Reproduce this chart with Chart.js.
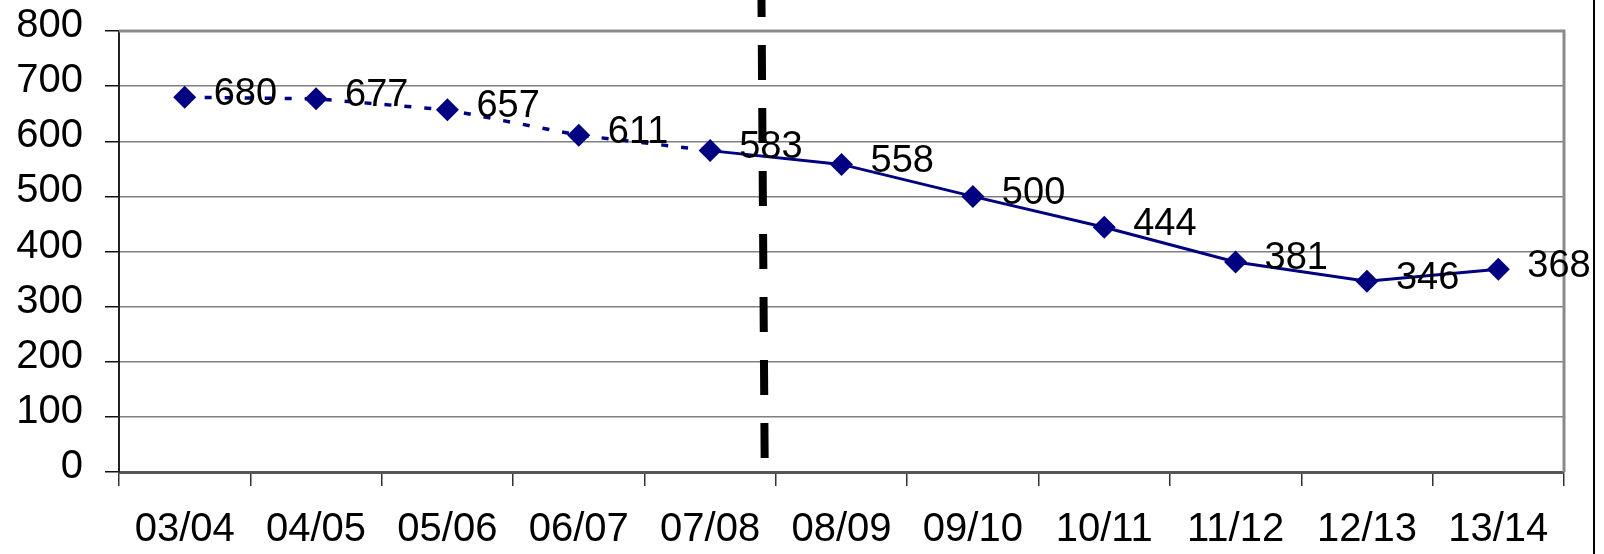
<!DOCTYPE html>
<html>
<head>
<meta charset="utf-8">
<script src="https://cdn.jsdelivr.net/npm/chart.js@4.4.0/dist/chart.umd.min.js"></script>
<style>
  html, body { margin: 0; padding: 0; background: #ffffff; }
  #wrap { width: 1604px; height: 554px; }
</style>
</head>
<body>
<div id="wrap"><canvas id="c" width="1604" height="554"></canvas></div>
<script>
const categories = ['03/04', '04/05', '05/06', '06/07', '07/08', '08/09', '09/10', '10/11', '11/12', '12/13', '13/14'];
const values = [680, 677, 657, 611, 583, 558, 500, 444, 381, 346, 368];
const yTicks = [0, 100, 200, 300, 400, 500, 600, 700, 800];
const dottedUntilIndex = 4;      // segments up to 07/08 are dotted
const dividerPosition = [4.39, 4.415]; // category-axis position of the dashed divider (top, bottom)

const FONT = '"Liberation Sans", Arial, "DejaVu Sans", sans-serif';
const NAVY = '#000080';

const decorations = {
  id: 'decorations',
  afterDatasetsDraw(chart) {
    const { ctx, chartArea: a, scales: { x, y } } = chart;
    ctx.save();
    // plot frame top & right
    ctx.strokeStyle = '#8a8a8a';
    ctx.lineWidth = 3;
    ctx.beginPath();
    ctx.moveTo(a.left, a.top);
    ctx.lineTo(a.right, a.top);
    ctx.lineTo(a.right, a.bottom);
    ctx.stroke();
    // dashed divider
    ctx.strokeStyle = '#000000';
    ctx.lineWidth = 8;
    ctx.setLineDash([35, 28]);
    ctx.beginPath();
    ctx.moveTo(x.getPixelForValue(dividerPosition[0]), -18);
    ctx.lineTo(x.getPixelForValue(dividerPosition[1]), a.bottom - 13);
    ctx.stroke();
    ctx.setLineDash([]);
    // right frame edge
    ctx.lineWidth = 2;
    ctx.beginPath();
    ctx.moveTo(1594, 0);
    ctx.lineTo(1594, chart.height);
    ctx.stroke();
    // data labels
    const meta = chart.getDatasetMeta(0);
    ctx.fillStyle = '#000000';
    ctx.font = '38px ' + FONT;
    ctx.textAlign = 'left';
    ctx.textBaseline = 'middle';
    meta.data.forEach((pt, i) => {
      ctx.fillText(String(values[i]), pt.x + 29, pt.y - 3);
    });
    ctx.restore();
  }
};

new Chart(document.getElementById('c'), {
  type: 'line',
  data: {
    labels: categories,
    datasets: [{
      data: values,
      borderColor: NAVY,
      backgroundColor: NAVY,
      borderWidth: 3,
      tension: 0,
      pointStyle: 'rectRot',
      pointRadius: 11.5,
      pointHoverRadius: 11.5,
      pointBorderWidth: 0,
      pointBackgroundColor: NAVY,
      segment: {
        borderDash: c => (c.p1DataIndex <= dottedUntilIndex ? [7, 13] : undefined),
        borderWidth: c => (c.p1DataIndex <= dottedUntilIndex ? 3.5 : 3)
      }
    }]
  },
  options: {
    responsive: false,
    animation: false,
    devicePixelRatio: 1,
    layout: { padding: { top: 31, right: 40, left: 0, bottom: 0 } },
    plugins: { legend: { display: false }, tooltip: { enabled: false } },
    scales: {
      x: {
        type: 'category',
        offset: true,
        afterFit(s) { s.height = 82; s.paddingLeft = 0; s.paddingRight = 0; },
        grid: {
          offset: true,
          drawOnChartArea: false,
          drawTicks: true,
          tickLength: 14,
          tickColor: '#333333',
          lineWidth: 1.5
        },
        border: { display: true, color: '#555555', width: 3 },
        ticks: {
          color: '#000000',
          font: { family: FONT, size: 40 },
          padding: 20,
          maxRotation: 0,
          autoSkip: false
        }
      },
      y: {
        min: yTicks[0],
        max: yTicks[yTicks.length - 1],
        afterFit(s) { s.width = 119; s.paddingTop = 0; s.paddingBottom = 0; },
        afterBuildTicks(s) { s.ticks = yTicks.map(v => ({ value: v })); },
        grid: {
          color: '#808080',
          lineWidth: 1.5,
          tickLength: 14,
          tickColor: '#111111'
        },
        border: { display: true, color: '#222222', width: 2 },
        ticks: {
          color: '#000000',
          font: { family: FONT, size: 40 },
          padding: 22,
          labelOffset: -5,
          stepSize: 100
        }
      }
    }
  },
  plugins: [decorations]
});
</script>
</body>
</html>
